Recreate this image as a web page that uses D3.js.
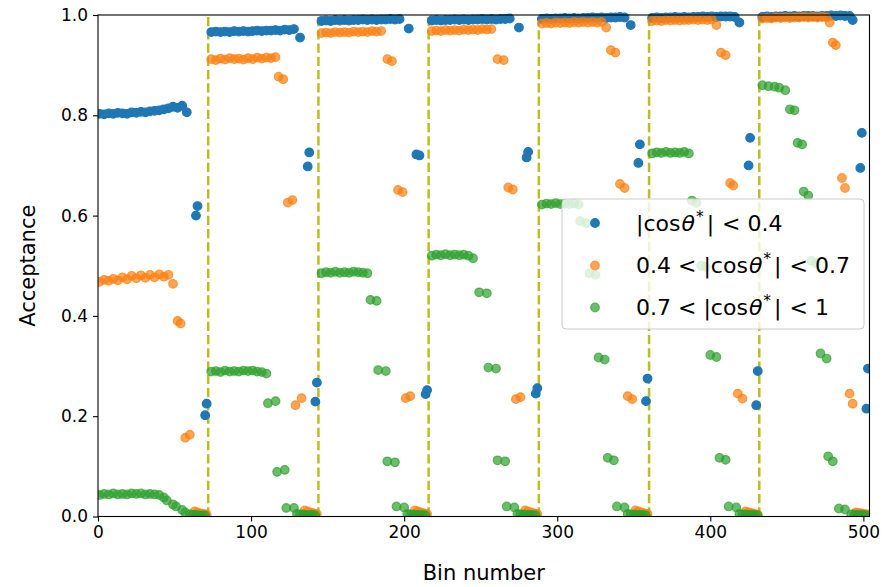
<!DOCTYPE html>
<html>
<head>
<meta charset="utf-8">
<script src="https://cdn.jsdelivr.net/npm/d3@7"></script>
<style>
  html, body { margin: 0; padding: 0; background: #ffffff; }
  svg { display: block; font-family: "DejaVu Sans", sans-serif; }
</style>
</head>
<body>
<svg id="chart" width="894" height="587"></svg>
<script>
// Acceptance per analysis bin, split into three |cos theta*| ranges.
// Bins come in 7 blocks of 72; each entry is [bin offset inside block, acceptance].
const blockSize = 72;
const nBlocks = 7;
const xTicks = [0, 100, 200, 300, 400, 500];
const yTicks = [0, 0.2, 0.4, 0.6, 0.8, 1.0];
const blockEdges = [72, 144, 216, 288, 360, 432];

const seriesNames = ["|cosθ*| < 0.4", "0.4 < |cosθ*| < 0.7", "0.7 < |cosθ*| < 1"];
const seriesColors = ["#1f77b4", "#ff7f0e", "#2ca02c"];

const blueBlocks = [
  [[1,.803],[4,.802],[7,.804],[10,.803],[13,.805],[16,.804],[19,.803],[22,.806],[25,.805],[28,.807],[31,.806],[34,.808],[37,.809],[40,.810],[43,.812],[46,.814],[49,.817],[52,.815],[55,.819],[58,.806],[64,.600],[65,.619],[70,.202],[71,.225]],
  [[2,.966],[5,.967],[8,.966],[11,.967],[14,.966],[17,.968],[20,.967],[23,.968],[26,.967],[29,.968],[32,.969],[35,.968],[38,.969],[41,.969],[44,.970],[47,.969],[50,.971],[53,.970],[56,.972],[60,.955],[65,.698],[66,.726],[70,.229],[71,.267]],
  [[2,.988],[5,.989],[8,.988],[11,.990],[14,.989],[17,.990],[20,.989],[23,.990],[26,.990],[29,.991],[32,.990],[35,.991],[38,.990],[41,.991],[44,.991],[47,.992],[50,.991],[53,.992],[59,.973],[64,.722],[66,.720],[70,.244],[71,.252]],
  [[2,.989],[5,.990],[8,.989],[11,.990],[14,.990],[17,.991],[20,.990],[23,.991],[26,.990],[29,.991],[32,.991],[35,.992],[38,.991],[41,.992],[44,.991],[47,.992],[50,.992],[53,.993],[59,.975],[64,.716],[65,.727],[70,.245],[71,.256]],
  [[2,.992],[5,.993],[8,.992],[11,.993],[14,.993],[17,.994],[20,.993],[23,.994],[26,.993],[29,.994],[32,.994],[35,.995],[38,.994],[41,.995],[44,.994],[47,.995],[50,.995],[53,.996],[56,.995],[60,.980],[65,.705],[66,.742],[70,.230],[71,.275]],
  [[2,.994],[5,.995],[8,.994],[11,.995],[14,.995],[17,.996],[20,.995],[23,.996],[26,.995],[29,.996],[32,.996],[35,.997],[38,.996],[41,.997],[44,.996],[47,.997],[50,.997],[53,.997],[56,.996],[59,.985],[65,.700],[66,.755],[70,.222],[71,.290]],
  [[2,.996],[5,.997],[8,.996],[11,.997],[14,.997],[17,.998],[20,.997],[23,.998],[26,.997],[29,.998],[32,.998],[35,.998],[38,.997],[41,.998],[44,.998],[47,.999],[50,.998],[53,.999],[56,.998],[59,.998],[61,.990],[66,.695],[67,.765],[70,.215],[71,.295]]
];

const orangeBlocks = [
  [[1,.468],[4,.472],[7,.470],[10,.474],[13,.471],[16,.477],[19,.473],[22,.480],[25,.475],[28,.481],[31,.476],[34,.482],[37,.477],[40,.483],[43,.478],[46,.482],[49,.464],[52,.390],[54,.385],[57,.157],[60,.163],[63,.010],[65,.008],[67,.006],[69,.005],[71,.004]],
  [[2,.912],[5,.910],[8,.913],[11,.911],[14,.914],[17,.912],[20,.913],[23,.911],[26,.914],[29,.912],[32,.915],[35,.913],[38,.915],[41,.914],[44,.916],[46,.877],[49,.872],[52,.626],[55,.631],[57,.222],[61,.236],[63,.012],[65,.010],[67,.008],[69,.006],[71,.005]],
  [[2,.964],[5,.965],[8,.964],[11,.966],[14,.965],[17,.966],[20,.965],[23,.967],[26,.966],[29,.967],[32,.966],[35,.968],[38,.967],[41,.968],[45,.912],[48,.908],[52,.651],[55,.647],[57,.236],[60,.240],[63,.012],[65,.010],[67,.008],[69,.006],[71,.005]],
  [[2,.968],[5,.969],[8,.968],[11,.970],[14,.969],[17,.970],[20,.969],[23,.971],[26,.970],[29,.971],[32,.970],[35,.972],[38,.971],[41,.972],[45,.912],[49,.910],[52,.656],[55,.652],[57,.234],[60,.238],[63,.012],[65,.010],[67,.008],[69,.006],[71,.005]],
  [[2,.983],[5,.984],[8,.983],[11,.985],[14,.984],[17,.985],[20,.984],[23,.986],[26,.985],[29,.986],[32,.985],[35,.986],[38,.985],[41,.986],[44,.975],[47,.930],[50,.925],[53,.663],[56,.655],[58,.240],[61,.234],[63,.012],[65,.010],[67,.008],[69,.006],[71,.005]],
  [[2,.988],[5,.989],[8,.988],[11,.990],[14,.989],[17,.990],[20,.989],[23,.990],[26,.990],[29,.991],[32,.990],[35,.991],[38,.990],[41,.991],[44,.980],[47,.925],[50,.920],[53,.665],[55,.660],[58,.245],[61,.235],[63,.010],[65,.008],[67,.007],[69,.005],[71,.004]],
  [[2,.993],[5,.994],[8,.993],[11,.995],[14,.994],[17,.995],[20,.994],[23,.995],[26,.995],[29,.996],[32,.995],[35,.996],[38,.995],[41,.996],[44,.995],[46,.985],[48,.945],[50,.940],[54,.675],[56,.655],[59,.245],[61,.225],[63,.008],[65,.007],[67,.006],[69,.005],[71,.004]]
];

const greenBlocks = [
  [[1,.043],[4,.045],[7,.044],[10,.046],[13,.044],[16,.045],[19,.044],[22,.046],[25,.045],[28,.046],[31,.044],[34,.045],[37,.044],[40,.043],[43,.038],[45,.032],[49,.024],[51,.020],[55,.013],[57,.008],[60,.004],[62,.003],[64,.003],[66,.002],[68,.002],[70,.002]],
  [[2,.289],[5,.290],[8,.288],[11,.291],[14,.289],[17,.290],[20,.289],[23,.291],[26,.290],[29,.291],[32,.289],[35,.288],[38,.285],[39,.226],[44,.230],[45,.089],[50,.093],[51,.017],[56,.017],[58,.005],[60,.004],[62,.004],[64,.003],[66,.003],[68,.003],[70,.002]],
  [[2,.485],[5,.487],[8,.486],[11,.488],[14,.486],[17,.487],[20,.486],[23,.488],[26,.487],[29,.486],[32,.485],[34,.432],[38,.430],[39,.292],[44,.290],[45,.110],[50,.108],[51,.020],[56,.018],[58,.005],[60,.004],[62,.004],[64,.003],[66,.003],[68,.003],[70,.002]],
  [[2,.520],[5,.522],[8,.521],[11,.523],[14,.521],[17,.522],[20,.521],[23,.522],[26,.520],[29,.515],[33,.447],[38,.445],[39,.297],[44,.295],[45,.112],[50,.110],[51,.020],[56,.018],[58,.005],[60,.004],[62,.004],[64,.003],[66,.003],[68,.003],[70,.002]],
  [[2,.622],[5,.624],[8,.623],[11,.625],[14,.623],[17,.624],[20,.623],[23,.624],[26,.622],[27,.589],[31,.585],[33,.485],[37,.482],[39,.317],[43,.313],[45,.117],[49,.112],[51,.020],[56,.018],[58,.005],[60,.004],[62,.004],[64,.003],[66,.003],[68,.003],[70,.002]],
  [[2,.724],[5,.726],[8,.725],[11,.727],[14,.725],[17,.726],[20,.725],[23,.727],[26,.724],[28,.630],[31,.625],[34,.500],[37,.498],[40,.322],[44,.318],[46,.117],[50,.113],[52,.020],[57,.018],[59,.005],[61,.004],[63,.004],[65,.003],[67,.003],[69,.003],[71,.002]],
  [[2,.860],[6,.858],[10,.857],[13,.855],[17,.850],[20,.812],[23,.810],[25,.745],[28,.742],[29,.648],[32,.640],[34,.510],[37,.505],[40,.325],[44,.315],[45,.120],[48,.110],[52,.016],[56,.014],[60,.004],[62,.004],[64,.003],[66,.003],[68,.003],[70,.002]]
];

const seriesBlocks = [blueBlocks, orangeBlocks, greenBlocks];
const seriesAlpha = [1.0, 0.7, 0.7];

// ---- layout ----
const svg = d3.select("#chart");
const plot = { left: 98, top: 15, right: 869.5, bottom: 516.5 };

const x = d3.scaleLinear().domain([0, blockSize * nBlocks]).range([plot.left, plot.right]);
const y = d3.scaleLinear().domain([0, 1]).range([plot.bottom, plot.top]);

// flatten blocks into absolute bin numbers
const series = seriesBlocks.map((blocks, i) => ({
  name: seriesNames[i],
  color: seriesColors[i],
  alpha: seriesAlpha[i],
  points: blocks.flatMap((blk, b) => blk.map(([off, v]) => ({ bin: b * blockSize + off, acc: v })))
}));

const clipId = "plot-clip";
svg.append("defs").append("clipPath").attr("id", clipId)
  .append("rect")
  .attr("x", plot.left).attr("y", plot.top - 6)
  .attr("width", plot.right - plot.left).attr("height", plot.bottom - plot.top + 6);

const body = svg.append("g").attr("clip-path", `url(#${clipId})`);

// block boundaries
body.selectAll("line.edge")
  .data(blockEdges)
  .join("line")
  .attr("class", "edge")
  .attr("x1", d => x(d)).attr("x2", d => x(d))
  .attr("y1", y(0)).attr("y2", y(1))
  .attr("stroke", "#bcbd22")
  .attr("stroke-width", 2.5)
  .attr("stroke-dasharray", "9.25,4");

// scatter points
const r = 4.3;
series.forEach(s => {
  body.append("g")
    .selectAll("circle")
    .data(s.points)
    .join("circle")
    .attr("cx", d => x(d.bin))
    .attr("cy", d => y(d.acc))
    .attr("r", r)
    .attr("fill", s.color)
    .attr("fill-opacity", s.alpha)
    .attr("stroke", s.color)
    .attr("stroke-opacity", s.alpha)
    .attr("stroke-width", 1.2);
});

// axes
const tickFont = "17px";
const xAxis = svg.append("g")
  .attr("transform", `translate(0,${plot.bottom})`)
  .call(d3.axisBottom(x).tickValues(xTicks).tickFormat(d3.format("d")).tickSizeOuter(0).tickSize(5).tickPadding(4));
const yAxis = svg.append("g")
  .attr("transform", `translate(${plot.left},0)`)
  .call(d3.axisLeft(y).tickValues(yTicks).tickFormat(d3.format(".1f")).tickSizeOuter(0).tickSize(5).tickPadding(5));

[xAxis, yAxis].forEach(g => {
  g.select(".domain").remove();
  g.selectAll(".tick line").attr("stroke", "#000").attr("stroke-width", 1.1);
  g.selectAll(".tick text").attr("fill", "#000").style("font-size", tickFont)
    .style("font-family", "'DejaVu Sans', sans-serif");
});

// frame
svg.append("rect")
  .attr("x", plot.left).attr("y", plot.top)
  .attr("width", plot.right - plot.left).attr("height", plot.bottom - plot.top)
  .attr("fill", "none").attr("stroke", "#000").attr("stroke-width", 1.1);

// axis titles
svg.append("text")
  .attr("x", (plot.left + plot.right) / 2).attr("y", 580)
  .attr("text-anchor", "middle")
  .style("font-size", "21px")
  .text("Bin number");
svg.append("text")
  .attr("transform", `translate(35,${(plot.top + plot.bottom) / 2}) rotate(-90)`)
  .attr("text-anchor", "middle")
  .style("font-size", "21px")
  .text("Acceptance");

// legend
const legend = svg.append("g");
legend.append("rect")
  .attr("x", 562).attr("y", 199).attr("width", 302).attr("height", 130)
  .attr("rx", 4).attr("ry", 4)
  .attr("fill", "#ffffff").attr("fill-opacity", 0.8)
  .attr("stroke", "#cccccc").attr("stroke-width", 1);

const legendRows = [223, 265.5, 307.5];
const legendParts = [
  { pre: "", val: "0.4" },
  { pre: "0.4", val: "0.7" },
  { pre: "0.7", val: "1" }
];

series.forEach((s, i) => {
  const cy = legendRows[i];
  legend.append("circle")
    .attr("cx", 595).attr("cy", cy).attr("r", r)
    .attr("fill", s.color).attr("fill-opacity", s.alpha)
    .attr("stroke", s.color).attr("stroke-opacity", s.alpha).attr("stroke-width", 1.2);
  const t = legend.append("text")
    .attr("x", 636).attr("y", cy + 7.5)
    .style("font-size", "22px")
    .attr("fill", "#000");
  const p = legendParts[i];
  if (p.pre) {
    t.append("tspan").text(p.pre);
    t.append("tspan").attr("dx", 7).text("<");
    t.append("tspan").attr("dx", 7).text("|cos");
  } else {
    t.append("tspan").text("|cos");
  }
  t.append("tspan").attr("dx", 1).style("font-style", "italic").text("θ");
  t.append("tspan").attr("dy", -9).attr("dx", 1).style("font-size", "15.5px").text("*");
  t.append("tspan").attr("dy", 9).attr("dx", 3).text("|");
  t.append("tspan").attr("dx", 8).text("<");
  t.append("tspan").attr("dx", 7).text(p.val);
});
</script>
</body>
</html>
